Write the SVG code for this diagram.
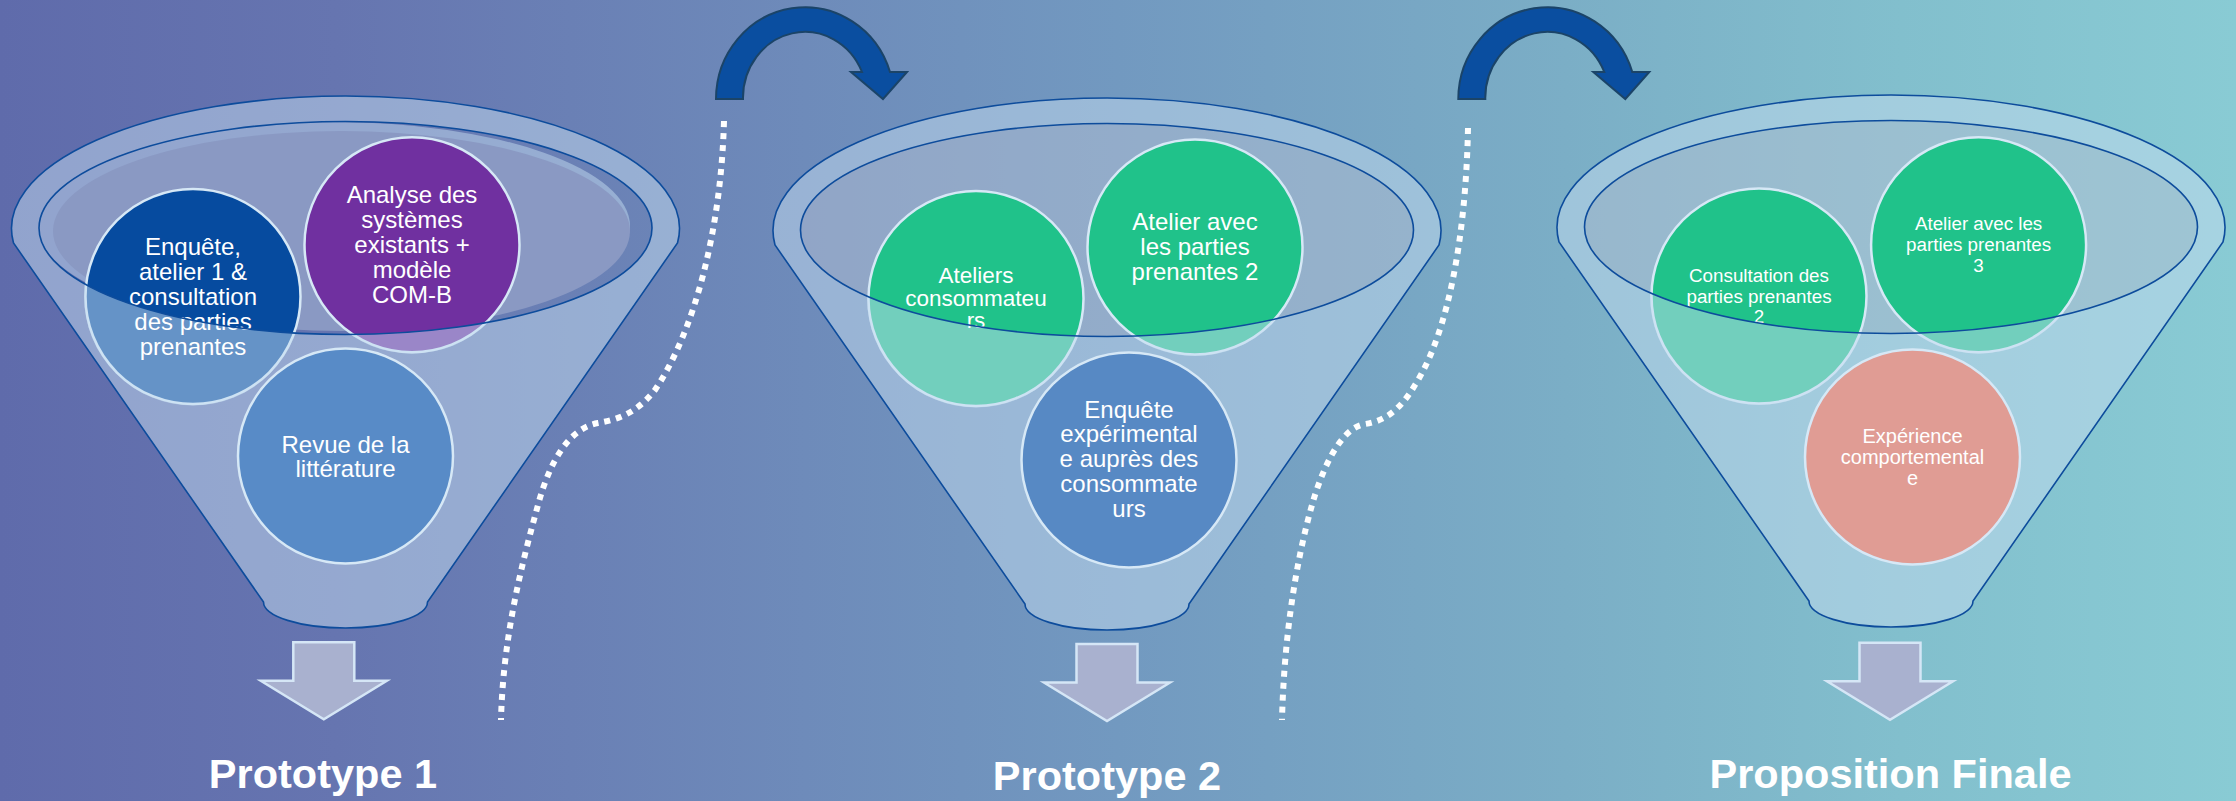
<svg xmlns="http://www.w3.org/2000/svg" width="2236" height="801" viewBox="0 0 2236 801">
  <defs>
    <linearGradient id="bg" x1="0" y1="0" x2="1" y2="0">
      <stop offset="0" stop-color="#5F6BAB"/>
      <stop offset="0.15" stop-color="#6675B0"/>
      <stop offset="0.36" stop-color="#6E8BBA"/>
      <stop offset="0.5" stop-color="#7299C0"/>
      <stop offset="0.7" stop-color="#7BAEC6"/>
      <stop offset="0.85" stop-color="#82BFCD"/>
      <stop offset="1" stop-color="#89CBD4"/>
    </linearGradient>
    <path id="coneShape" d="M-332,15 A334 132.5 0 1 1 332,15 L82,374 A82 26 0 0 1 -82,374 Z"/>
    <clipPath id="mouthClip1">
      <ellipse cx="345.5" cy="228" rx="306.5" ry="106.5"/>
    </clipPath>
    <clipPath id="coneClip1">
      <path clip-rule="evenodd" transform="translate(345.5,228)" d="M-332,15 A334 132.5 0 1 1 332,15 L82,374 A82 26 0 0 1 -82,374 Z M-306.5,0 A306.5 106.5 0 1 0 306.5,0 A306.5 106.5 0 1 0 -306.5,0 Z"/>
    </clipPath>
    <clipPath id="coneClip2">
      <path clip-rule="evenodd" transform="translate(1107,230)" d="M-332,15 A334 132.5 0 1 1 332,15 L82,374 A82 26 0 0 1 -82,374 Z M-306.5,0 A306.5 106.5 0 1 0 306.5,0 A306.5 106.5 0 1 0 -306.5,0 Z"/>
    </clipPath>
    <clipPath id="coneClip3">
      <path clip-rule="evenodd" transform="translate(1891,227)" d="M-332,15 A334 132.5 0 1 1 332,15 L82,374 A82 26 0 0 1 -82,374 Z M-306.5,0 A306.5 106.5 0 1 0 306.5,0 A306.5 106.5 0 1 0 -306.5,0 Z"/>
    </clipPath>
    <style>
      .overlay { fill: #C4DCF0; fill-opacity: 0.5; }
      .mouth { fill: #B4C0D4; fill-opacity: 0.5; }
      .outline { fill: none; stroke: #0D4C9C; stroke-width: 1.6; }
      .circ { stroke: #D6E8F6; stroke-width: 2.5; }
      .cover { fill: #C4DCF0; fill-opacity: 0.5; stroke: none; }
      .t { font-family: "Liberation Sans", Arial, sans-serif; fill: #FFFFFF; text-anchor: middle; font-size: 24px; }
      .t2 { font-size: 22.5px; }
      .t3 { font-size: 18.8px; }
      .t4 { font-size: 20px; }
      .title { font-family: "Liberation Sans", Arial, sans-serif; font-weight: bold; fill: #FFFFFF; text-anchor: middle; font-size: 41.5px; }
      .dots { fill: none; stroke: #FFFFFF; stroke-width: 6; stroke-dasharray: 6 6; }
      .curve { fill: #0A4EA0; stroke: #1B4468; stroke-width: 2; stroke-linejoin: miter; }
      .down { fill: #A9B1CF; stroke: #D5E6F6; stroke-width: 2.5; stroke-linejoin: miter; }
    </style>
  </defs>

  <rect x="0" y="0" width="2236" height="801" fill="url(#bg)"/>

  <!-- funnel bodies -->
  <g id="funnel-1-body">
    <path class="overlay" fill-rule="evenodd" transform="translate(345.5,228)" d="M-332,15 A334 132.5 0 1 1 332,15 L82,374 A82 26 0 0 1 -82,374 Z M-306.5,0 A306.5 106.5 0 1 0 306.5,0 A306.5 106.5 0 1 0 -306.5,0 Z"/>
    <g clip-path="url(#mouthClip1)">
      <ellipse class="overlay" cx="334" cy="226" rx="296" ry="104"/>
      <ellipse cx="341.5" cy="231" rx="288.5" ry="100" fill="#8A99C3"/>
    </g>
  </g>
  <g id="funnel-2-body">
    <path class="overlay" fill-rule="evenodd" transform="translate(1107,230)" d="M-332,15 A334 132.5 0 1 1 332,15 L82,374 A82 26 0 0 1 -82,374 Z M-306.5,0 A306.5 106.5 0 1 0 306.5,0 A306.5 106.5 0 1 0 -306.5,0 Z"/>
    <ellipse class="mouth" cx="1107" cy="230" rx="306.5" ry="106.5"/>
  </g>
  <g id="funnel-3-body">
    <path class="overlay" fill-rule="evenodd" transform="translate(1891,227)" d="M-332,15 A334 132.5 0 1 1 332,15 L82,374 A82 26 0 0 1 -82,374 Z M-306.5,0 A306.5 106.5 0 1 0 306.5,0 A306.5 106.5 0 1 0 -306.5,0 Z"/>
    <ellipse class="mouth" cx="1891" cy="227" rx="306.5" ry="106.5"/>
  </g>

  <!-- dotted separators -->
  <g id="separators">
    <path class="dots" d="M724,121 C721,230 695,330 655,390 C635,415 615,420 598,423 C570,428 550,460 538,505 C520,570 503,640 501,720"/>
    <path class="dots" d="M1468,128 C1466,230 1450,330 1415,385 C1400,410 1385,421 1365,424 C1340,428 1322,470 1312,505 C1295,565 1284,640 1282,720"/>
  </g>

  <!-- nodes: funnel 1 -->
  <g id="node-enquete-atelier1">
    <circle class="circ" cx="193" cy="296.5" r="107.5" fill="#064B9F"/>
    <circle class="cover" cx="193" cy="296.5" r="109" clip-path="url(#coneClip1)"/>
    <text class="t" x="193" y="254.5">Enquête,</text>
    <text class="t" x="193" y="279.5">atelier 1 &amp;</text>
    <text class="t" x="193" y="304.5">consultation</text>
    <text class="t" x="193" y="329.5">des parties</text>
    <text class="t" x="193" y="354.5">prenantes</text>
  </g>
  <g id="node-analyse-systemes">
    <circle class="circ" cx="412" cy="244.7" r="107.5" fill="#7030A0"/>
    <circle class="cover" cx="412" cy="244.7" r="109" clip-path="url(#coneClip1)"/>
    <text class="t" x="412" y="203.3">Analyse des</text>
    <text class="t" x="412" y="228.1">systèmes</text>
    <text class="t" x="412" y="252.9">existants +</text>
    <text class="t" x="412" y="277.7">modèle</text>
    <text class="t" x="412" y="302.5">COM-B</text>
  </g>
  <g id="node-revue-litterature">
    <circle class="circ" cx="345.5" cy="456" r="107.5" fill="#588BC7"/>
    <text class="t" x="345.5" y="453">Revue de la</text>
    <text class="t" x="345.5" y="477">littérature</text>
  </g>

  <!-- nodes: funnel 2 -->
  <g id="node-ateliers-consommateurs">
    <circle class="circ" cx="976" cy="298.5" r="107.5" fill="#20C28A"/>
    <circle class="cover" cx="976" cy="298.5" r="109" clip-path="url(#coneClip2)"/>
    <text class="t t2" x="976" y="283">Ateliers</text>
    <text class="t t2" x="976" y="305.5">consommateu</text>
    <text class="t t2" x="976" y="328">rs</text>
  </g>
  <g id="node-atelier-parties-2">
    <circle class="circ" cx="1195" cy="247" r="107.5" fill="#20C28A"/>
    <circle class="cover" cx="1195" cy="247" r="109" clip-path="url(#coneClip2)"/>
    <text class="t" x="1195" y="230">Atelier avec</text>
    <text class="t" x="1195" y="255">les parties</text>
    <text class="t" x="1195" y="280">prenantes 2</text>
  </g>
  <g id="node-enquete-experimentale">
    <circle class="circ" cx="1129" cy="460" r="107.5" fill="#5789C4"/>
    <text class="t" x="1129" y="417.5">Enquête</text>
    <text class="t" x="1129" y="442.3">expérimental</text>
    <text class="t" x="1129" y="467.1">e auprès des</text>
    <text class="t" x="1129" y="491.9">consommate</text>
    <text class="t" x="1129" y="516.7">urs</text>
  </g>

  <!-- nodes: funnel 3 -->
  <g id="node-consultation-parties-2">
    <circle class="circ" cx="1759" cy="296" r="107.5" fill="#20C28A"/>
    <circle class="cover" cx="1759" cy="296" r="109" clip-path="url(#coneClip3)"/>
    <text class="t t3" x="1759" y="282">Consultation des</text>
    <text class="t t3" x="1759" y="302.5">parties prenantes</text>
    <text class="t t3" x="1759" y="323">2</text>
  </g>
  <g id="node-atelier-parties-3">
    <circle class="circ" cx="1978.6" cy="244.7" r="107.5" fill="#20C28A"/>
    <circle class="cover" cx="1978.6" cy="244.7" r="109" clip-path="url(#coneClip3)"/>
    <text class="t t3" x="1978.6" y="230">Atelier avec les</text>
    <text class="t t3" x="1978.6" y="251">parties prenantes</text>
    <text class="t t3" x="1978.6" y="272">3</text>
  </g>
  <g id="node-experience-comportementale">
    <circle class="circ" cx="1912.5" cy="457" r="107.5" fill="#E09C94"/>
    <text class="t t4" x="1912.5" y="442.6">Expérience</text>
    <text class="t t4" x="1912.5" y="463.7">comportemental</text>
    <text class="t t4" x="1912.5" y="484.5">e</text>
  </g>

  <!-- funnel outlines -->
  <g id="funnel-outlines">
    <g transform="translate(345.5,228)">
      <use href="#coneShape" class="outline"/>
      <ellipse class="outline" cx="0" cy="0" rx="306.5" ry="106.5"/>
    </g>
    <g transform="translate(1107,230)">
      <use href="#coneShape" class="outline"/>
      <ellipse class="outline" cx="0" cy="0" rx="306.5" ry="106.5"/>
    </g>
    <g transform="translate(1891,227)">
      <use href="#coneShape" class="outline"/>
      <ellipse class="outline" cx="0" cy="0" rx="306.5" ry="106.5"/>
    </g>
  </g>

  <!-- connectors -->
  <g id="connectors">
    <path class="curve" d="M716,99 A89 92 0 0 1 890,72 L907,72 L883,99 L851,72 L862,72 A62 66 0 0 0 743,99 Z"/>
    <path class="curve" d="M1458.3,99 A89 92 0 0 1 1632.3,72 L1649.3,72 L1625.3,99 L1593.3,72 L1604.3,72 A62 66 0 0 0 1485.3,99 Z"/>
    <path class="down" d="M293.3,642.3 L354.3,642.3 L354.3,680.8 L386.8,680.8 L323.8,719.3 L260.8,680.8 L293.3,680.8 Z"/>
    <path class="down" d="M1076.5,644 L1137.5,644 L1137.5,682.5 L1170,682.5 L1107,721 L1044,682.5 L1076.5,682.5 Z"/>
    <path class="down" d="M1859.5,642.7 L1920.5,642.7 L1920.5,681.2 L1953,681.2 L1890,719.7 L1827,681.2 L1859.5,681.2 Z"/>
  </g>

  <!-- titles -->
  <g id="titles">
    <text class="title" x="323" y="788">Prototype 1</text>
    <text class="title" x="1107" y="790">Prototype 2</text>
    <text class="title" x="1890.5" y="788">Proposition Finale</text>
  </g>
</svg>
